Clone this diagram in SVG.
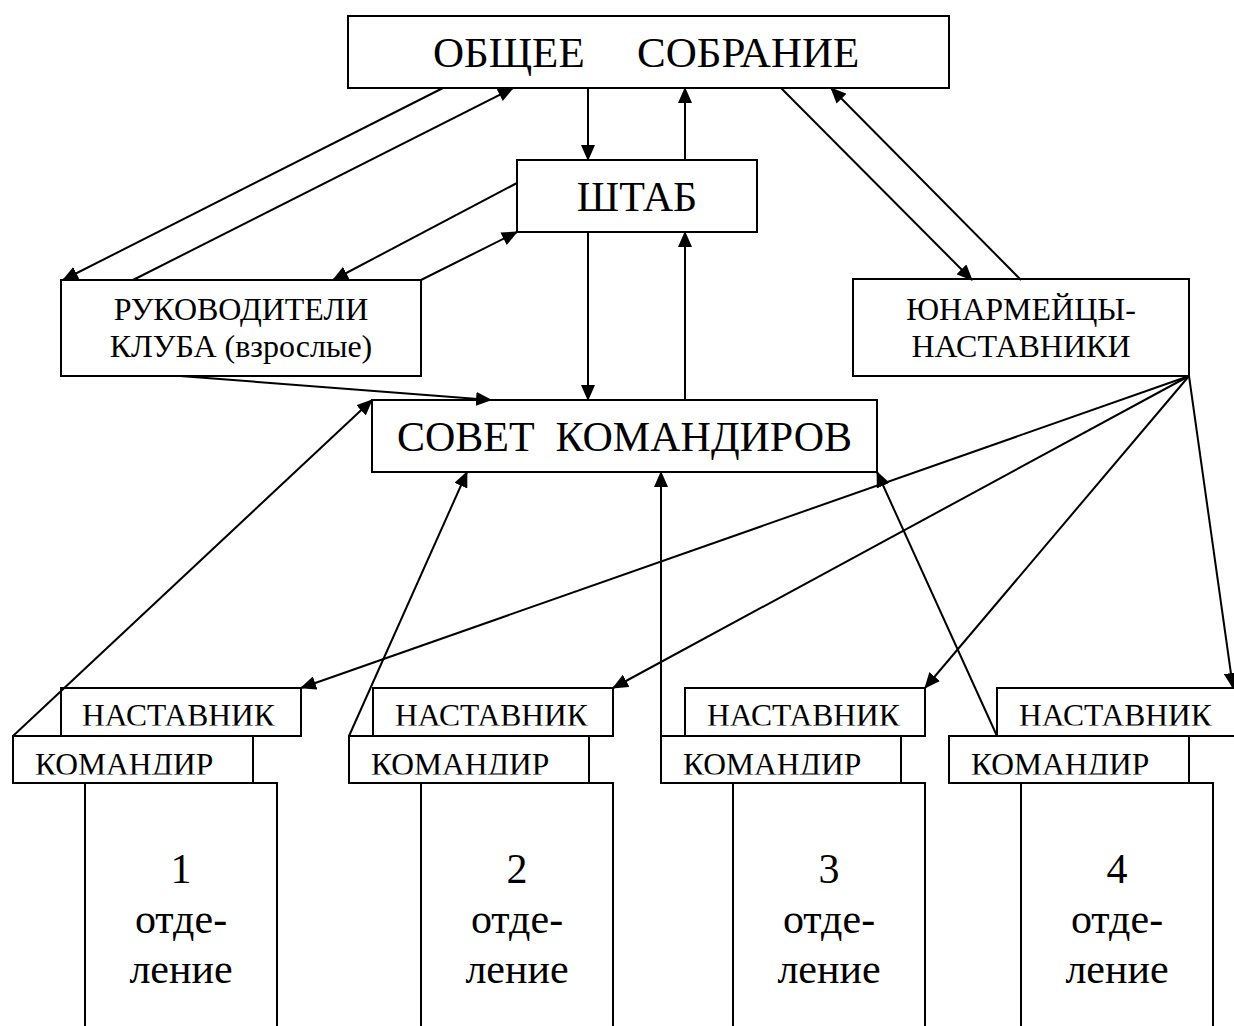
<svg xmlns="http://www.w3.org/2000/svg" width="1234" height="1026" viewBox="0 0 1234 1026">
<style>
rect, .box { fill: #fff; stroke: #000; stroke-width: 2; }
.open { fill: none; stroke: #000; stroke-width: 2; }
text { font-family: "Liberation Serif", "Times New Roman", "DejaVu Serif", serif; fill: #000; }
.big { font-size: 42px; }
.top { font-size: 43px; }
.sm { font-size: 32px; }
.lbl { font-size: 31.5px; }
.mid { text-anchor: middle; }
#connectors line { stroke: #000; stroke-width: 2; marker-end: url(#ah); }
</style>
<defs>
<marker id="ah" markerUnits="userSpaceOnUse" markerWidth="16" markerHeight="14" refX="15" refY="7" orient="auto">
<path d="M0,0 L16,7 L0,14 z" fill="#000"/>
</marker>
<clipPath id="clipN" clipPathUnits="userSpaceOnUse"><rect x="0" y="688" width="1234" height="37.5"/></clipPath>
<clipPath id="clipK" clipPathUnits="userSpaceOnUse"><rect x="0" y="736" width="1234" height="38.5"/></clipPath>
</defs>
<rect x="0" y="0" width="1234" height="1026" style="fill:#fff;stroke:none"/>

<g id="obshee-sobranie">
<rect x="348" y="16" width="601" height="72"/>
<text class="top" x="433" y="67">ОБЩЕЕ <tspan x="637">СОБРАНИЕ</tspan></text>
</g>
<g id="shtab">
<rect x="517" y="160" width="240" height="72"/>
<text class="big mid" x="637" y="211">ШТАБ</text>
</g>
<g id="rukovoditeli">
<rect x="61" y="280" width="360" height="96"/>
<text class="sm mid" x="241" y="320">РУКОВОДИТЕЛИ</text>
<text class="sm mid" x="241" y="357">КЛУБА (взрослые)</text>
</g>
<g id="yunarmeytsy">
<rect x="853" y="279" width="336" height="97"/>
<text class="sm mid" x="1021" y="320">ЮНАРМЕЙЦЫ-</text>
<text class="sm mid" x="1021" y="357">НАСТАВНИКИ</text>
</g>
<g id="sovet">
<rect x="372" y="400" width="505" height="72"/>
<text class="big mid" x="624.5" y="451" xml:space="preserve">СОВЕТ  КОМАНДИРОВ</text>
</g>

<g id="otdelenie-1">
<path class="open" d="M85,1030 V783 H277 V1030"/>
<rect x="61" y="688" width="240" height="48"/>
<text class="lbl" x="82" y="726" clip-path="url(#clipN)">НАСТАВНИК</text>
<rect x="13" y="736" width="240" height="47"/>
<text class="lbl" x="35" y="775" clip-path="url(#clipK)">КОМАНДИР</text>
<text class="big mid" x="181" y="883">1</text>
<text class="big mid" x="181" y="933">отде-</text>
<text class="big mid" x="181" y="983">ление</text>
</g>
<g id="otdelenie-2">
<path class="open" d="M421,1030 V783 H613 V1030"/>
<rect x="373" y="688" width="240" height="48"/>
<text class="lbl" x="395" y="726" clip-path="url(#clipN)">НАСТАВНИК</text>
<rect x="349" y="736" width="240" height="47"/>
<text class="lbl" x="371" y="775" clip-path="url(#clipK)">КОМАНДИР</text>
<text class="big mid" x="517" y="883">2</text>
<text class="big mid" x="517" y="933">отде-</text>
<text class="big mid" x="517" y="983">ление</text>
</g>
<g id="otdelenie-3">
<path class="open" d="M733,1030 V783 H925 V1030"/>
<rect x="685" y="688" width="240" height="48"/>
<text class="lbl" x="707" y="726" clip-path="url(#clipN)">НАСТАВНИК</text>
<rect x="661" y="736" width="240" height="47"/>
<text class="lbl" x="683" y="775" clip-path="url(#clipK)">КОМАНДИР</text>
<text class="big mid" x="829" y="883">3</text>
<text class="big mid" x="829" y="933">отде-</text>
<text class="big mid" x="829" y="983">ление</text>
</g>
<g id="otdelenie-4">
<path class="open" d="M1021,1030 V783 H1213 V1030"/>
<rect x="997" y="688" width="240" height="48"/>
<text class="lbl" x="1019" y="726" clip-path="url(#clipN)">НАСТАВНИК</text>
<rect x="949" y="736" width="240" height="47"/>
<text class="lbl" x="971" y="775" clip-path="url(#clipK)">КОМАНДИР</text>
<text class="big mid" x="1117" y="883">4</text>
<text class="big mid" x="1117" y="933">отде-</text>
<text class="big mid" x="1117" y="983">ление</text>
</g>

<g id="connectors">
<line x1="443" y1="88" x2="63" y2="280"/>
<line x1="133" y1="280" x2="513" y2="88"/>
<line x1="517" y1="183" x2="333" y2="280"/>
<line x1="421" y1="280" x2="517" y2="232"/>
<line x1="588" y1="88" x2="588" y2="160"/>
<line x1="685" y1="160" x2="685" y2="88"/>
<line x1="588" y1="232" x2="588" y2="400"/>
<line x1="685" y1="400" x2="685" y2="232"/>
<line x1="781" y1="88" x2="972" y2="280"/>
<line x1="1021" y1="280" x2="831" y2="88"/>
<line x1="180" y1="376" x2="491" y2="400"/>
<line x1="13" y1="736" x2="372" y2="400"/>
<line x1="349" y1="736" x2="467" y2="472"/>
<line x1="661" y1="736" x2="661" y2="472"/>
<line x1="997" y1="736" x2="877" y2="472"/>
<line x1="1189" y1="376" x2="301" y2="688"/>
<line x1="1189" y1="376" x2="613" y2="688"/>
<line x1="1189" y1="376" x2="925" y2="688"/>
<line x1="1189" y1="376" x2="1233" y2="688"/>
</g>
</svg>
